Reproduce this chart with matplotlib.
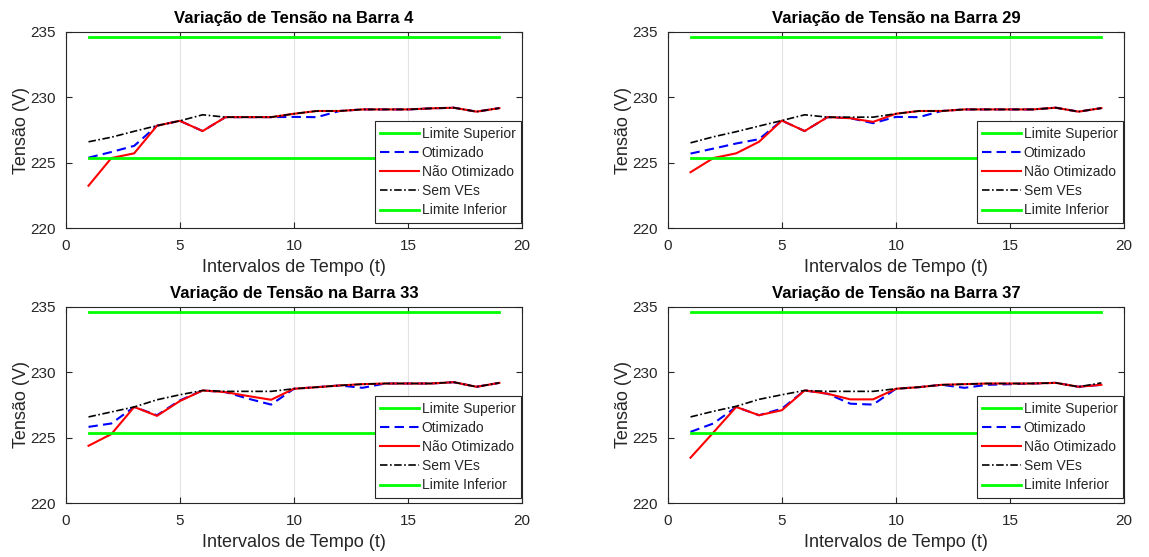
import matplotlib
matplotlib.use("Agg")
import matplotlib.pyplot as plt
import numpy as np

plt.rcParams['font.family'] = ['Liberation Sans', 'DejaVu Sans']

# Time intervals
t = list(range(1, 20))

# Voltage limits (V)
lim_sup = 234.6
lim_inf = 225.4

# Bus 4
b4_sem = [226.60, 226.95, 227.40, 227.83, 228.20, 228.66, 228.48, 228.48, 228.48, 228.74,
          228.95, 228.95, 229.07, 229.07, 229.07, 229.15, 229.20, 228.90, 229.17]
b4_otim = [225.39, 225.82, 226.29, 227.83, 228.20, 227.42, 228.48, 228.48, 228.48, 228.50,
           228.48, 228.95, 229.07, 229.07, 229.07, 229.15, 229.20, 228.90, 229.17]
b4_nao = [223.25, 225.36, 225.72, 227.83, 228.20, 227.42, 228.48, 228.48, 228.48, 228.74,
          228.95, 228.95, 229.07, 229.07, 229.07, 229.15, 229.20, 228.90, 229.17]

# Bus 29
b29_sem = [226.52, 226.98, 227.37, 227.80, 228.22, 228.66, 228.48, 228.48, 228.48, 228.74,
           228.95, 228.95, 229.07, 229.07, 229.07, 229.07, 229.20, 228.90, 229.17]
b29_otim = [225.70, 226.08, 226.47, 226.80, 228.22, 227.42, 228.48, 228.40, 228.02, 228.50,
            228.48, 228.95, 229.07, 229.07, 229.07, 229.07, 229.20, 228.90, 229.17]
b29_nao = [224.28, 225.36, 225.72, 226.60, 228.22, 227.42, 228.48, 228.40, 228.12, 228.74,
           228.95, 228.95, 229.07, 229.07, 229.07, 229.07, 229.20, 228.90, 229.17]

# Bus 33
b33_sem = [226.59, 226.97, 227.35, 227.90, 228.28, 228.61, 228.54, 228.54, 228.54, 228.74,
           228.86, 228.99, 229.09, 229.14, 229.14, 229.14, 229.24, 228.89, 229.19]
b33_otim = [225.83, 226.09, 227.35, 226.72, 227.85, 228.61, 228.48, 227.98, 227.53, 228.74,
            228.86, 228.99, 228.81, 229.14, 229.14, 229.14, 229.24, 228.89, 229.19]
b33_nao = [224.39, 225.28, 227.35, 226.67, 227.80, 228.61, 228.48, 228.18, 227.90, 228.74,
           228.86, 228.99, 229.09, 229.14, 229.14, 229.14, 229.24, 228.89, 229.19]

# Bus 37
b37_sem = [226.59, 227.02, 227.40, 227.93, 228.28, 228.61, 228.54, 228.54, 228.54, 228.74,
           228.86, 229.04, 229.09, 229.14, 229.14, 229.14, 229.19, 228.89, 229.19]
b37_otim = [225.45, 226.09, 227.35, 226.72, 227.22, 228.61, 228.36, 227.60, 227.53, 228.74,
            228.86, 229.04, 228.81, 229.04, 229.09, 229.14, 229.19, 228.89, 229.04]
b37_nao = [223.48, 225.40, 227.35, 226.72, 227.10, 228.61, 228.36, 227.93, 227.93, 228.74,
           228.86, 229.04, 229.09, 229.14, 229.14, 229.14, 229.19, 228.89, 229.04]

barras = [4, 29, 33, 37]
series = [(b4_otim, b4_nao, b4_sem), (b29_otim, b29_nao, b29_sem),
          (b33_otim, b33_nao, b33_sem), (b37_otim, b37_nao, b37_sem)]

W, H = 1149, 557
fig = plt.figure(figsize=(W / 100, H / 100), dpi=100)

# axes boxes in pixels: (left, top, width, height)
boxes = [(65.7, 31.7, 456.5, 196.6), (667.7, 31.7, 456.5, 196.6),
         (65.7, 306.7, 456.5, 196.6), (667.7, 306.7, 456.5, 196.6)]

txt = '#262626'
for (l, tp, w, h), barra, (otim, nao, sem) in zip(boxes, barras, series):
    ax = fig.add_axes([l / W, 1 - (tp + h) / H, w / W, h / H])
    ax.plot(t, [lim_sup] * len(t), color='#00ff00', lw=2.0, label='Limite Superior')
    ax.plot(t, otim, color='#0000ff', lw=1.5, dashes=(4.5, 2.5), label='Otimizado')
    ax.plot(t, nao, color='#ff0000', lw=1.5, label='Não Otimizado')
    ax.plot(t, sem, color='black', lw=1.2, dashes=(4.5, 1.5, 1, 1.5), label='Sem VEs')
    ax.plot(t, [lim_inf] * len(t), color='#00ff00', lw=2.0, label='Limite Inferior')

    ax.set_xlim(0, 20)
    ax.set_ylim(220, 235)
    ax.set_xticks([0, 5, 10, 15, 20])
    ax.set_yticks([220, 225, 230, 235])
    ax.grid(True, axis='x', color='#e3e3e3', lw=0.8)
    ax.set_axisbelow(True)
    ax.tick_params(direction='in', length=4, width=0.8, top=True, right=True,
                   labelsize=11, colors=txt)
    ax.tick_params(axis='x', pad=8)
    ax.tick_params(axis='y', pad=7)
    for s in ax.spines.values():
        s.set_color('#262626')
        s.set_linewidth(0.8)

    ax.set_title(f'Variação de Tensão na Barra {barra}', fontsize=12, fontweight='bold', pad=6)
    ax.set_xlabel('Intervalos de Tempo (t)', fontsize=13, color=txt, labelpad=4)
    ax.set_ylabel('Tensão (V)', fontsize=13, color=txt, labelpad=0)

    leg = ax.legend(loc='lower right', bbox_to_anchor=(0.998, 0.027), borderaxespad=0,
                    fontsize=10, handlelength=2.8, handletextpad=0.2, labelspacing=0.37,
                    borderpad=0.4, fancybox=False, framealpha=1, edgecolor='#262626')
    leg.get_frame().set_linewidth(0.8)
    for tx in leg.get_texts():
        tx.set_color(txt)

fig.savefig('out.png', dpi=100)
